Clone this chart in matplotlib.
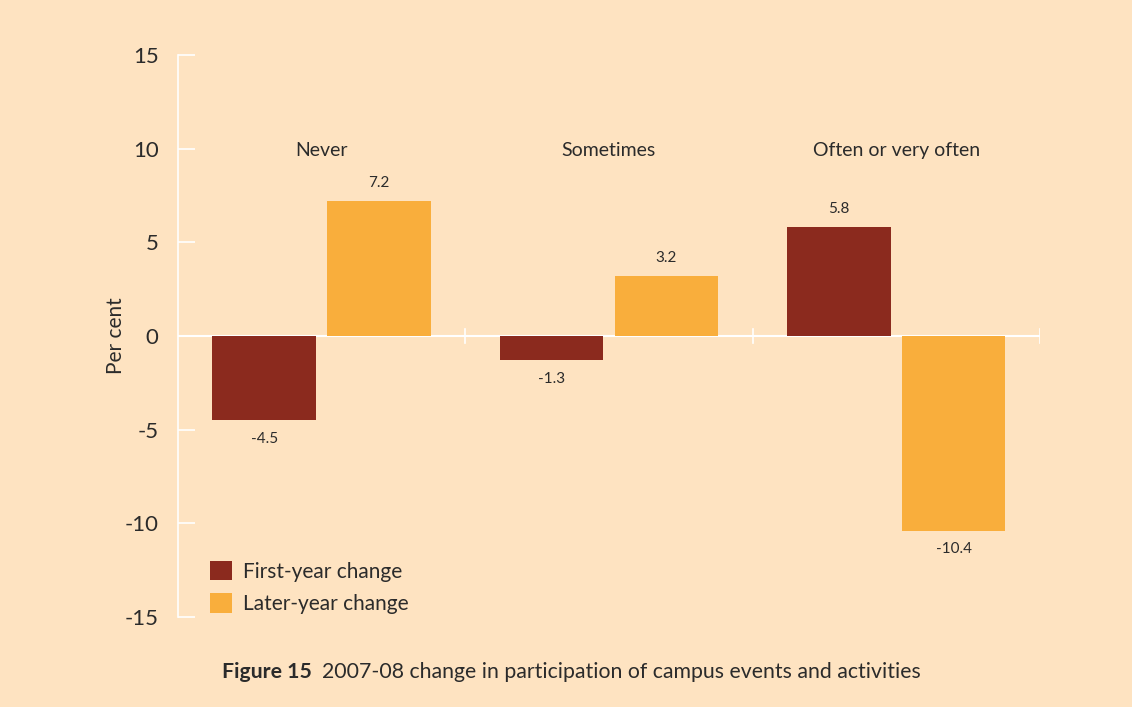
import numpy as np
import matplotlib.pyplot as plt

# data
categories = ["Never", "Sometimes", "Often or very often"]
first_year = [-4.5, -1.3, 5.8]
later_year = [7.2, 3.2, -10.4]
yticks = [-15, -10, -5, 0, 5, 10, 15]

bg = "#FEE3C1"
dark = "#8B2A1E"
orange = "#F9AE3C"
txt = "#2b2b2b"

plt.rcParams['font.family'] = ['Lato', 'DejaVu Sans']

fig = plt.figure(figsize=(11.32, 7.07), dpi=100, facecolor=bg)
ax = fig.add_axes([0.1572, 0.1273, 0.7615, 0.7949], facecolor=bg)

x = np.arange(len(categories)) + 0.5
w = 0.36
b1 = ax.bar(x - 0.2, first_year, w, color=dark, label="First-year change", zorder=2)
b2 = ax.bar(x + 0.2, later_year, w, color=orange, label="Later-year change", zorder=2)

for bars, vals in ((b1, first_year), (b2, later_year)):
    for r, v in zip(bars, vals):
        cx = r.get_x() + r.get_width() / 2
        if v >= 0:
            ax.text(cx, v + 0.6, f"{v:.1f}", ha="center", va="bottom", fontsize=11, color=txt)
        else:
            ax.text(cx, v - 0.6, f"{v:.1f}", ha="center", va="top", fontsize=11, color=txt)

for xi, c in zip(x, categories):
    ax.text(xi, 9.9, c, ha="center", va="center", fontsize=14, color=txt)

ax.set_xlim(0, 3)
ax.set_ylim(-15, 15)
ax.set_yticks(yticks)
ax.set_yticklabels([str(t) for t in yticks], fontsize=16, color=txt)
ax.tick_params(axis="y", direction="in", length=12, color="white", width=1.2, pad=14)
ax.set_xticks([])

for s in ["top", "right", "bottom"]:
    ax.spines[s].set_visible(False)
ax.spines["left"].set_color("white")
ax.spines["left"].set_linewidth(1.2)

# zero line with category separators
ax.axhline(0, color="white", lw=1.5, zorder=1)
for xs in [1, 2, 3]:
    ax.plot([xs, xs], [-0.4, 0.4], color="white", lw=1.2, zorder=1)

ax.set_ylabel("Per cent", fontsize=15, color=txt)
ax.yaxis.set_label_coords(-0.060, 0.5)

leg = ax.legend(loc="lower left", bbox_to_anchor=(0.016, -0.028), frameon=False,
                fontsize=15, handlelength=1.05, handleheight=1.05, handletextpad=0.5,
                labelspacing=0.55)
for t in leg.get_texts():
    t.set_color(txt)

# caption: bold prefix followed by normal text
t1 = fig.text(0.196, 0.05, "Figure 15", ha="left", va="center", fontsize=15.3,
              fontweight="bold", color=txt)
fig.canvas.draw()
bb = t1.get_window_extent()
fig.text(bb.x1 / fig.bbox.width + 0.009, 0.05,
         "2007-08 change in participation of campus events and activities",
         ha="left", va="center", fontsize=15.3, color=txt)

fig.savefig("out.png", dpi=100, facecolor=bg)
